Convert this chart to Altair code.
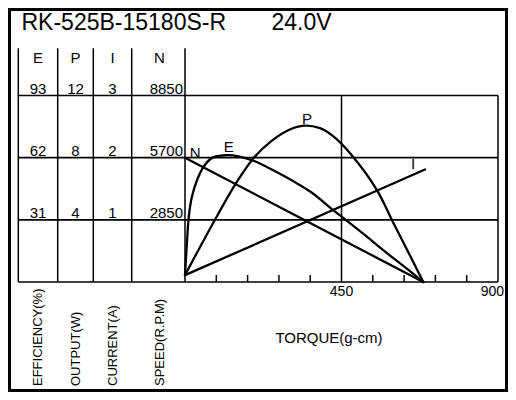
import altair as alt
import pandas as pd

# ---------------- data ----------------
title_model = "RK-525B-15180S-R"
title_volt = "24.0V"

col_names = ["E", "P", "I", "N"]
E_levels = [93, 62, 31]
P_levels = [12, 8, 4]
I_levels = [3, 2, 1]
N_levels = ["8850", "5700", "2850"]
row_index = [3, 2, 1]
grid_rows = [0, 1, 2, 3]

axis_titles = ["EFFICIENCY(%)", "OUTPUT(W)", "CURRENT(A)", "SPEED(R.P.M)"]
x_title = "TORQUE(g-cm)"
x_labels = [450, 900]
x_minor = [90, 180, 270, 360, 540, 630, 720, 810]

torque_E = [0, 6, 11, 20, 35, 54, 78, 116, 154, 201, 259, 316, 365, 425, 460, 522, 580, 637, 685]
eff_E = [3.5, 21, 32.7, 42.6, 51, 57.6, 61.9, 63.2, 62.7, 60.2, 55.2, 49.8, 44.5, 36, 31.3, 22.8, 14.5, 6.8, 0]

torque_P = [0, 91, 145, 198, 250, 300, 342, 388, 425, 474, 551, 598, 647, 685]
out_P = [0.45, 4.2, 6.3, 8.0, 9.1, 9.8, 10.06, 9.9, 9.4, 8.3, 5.95, 3.85, 1.7, 0]

torque_I = [0, 690]
cur_I = [0.11, 1.81]

torque_N = [0, 685]
spd_N = [5700, 0]

curve_names = ["E", "P", "I", "N"]
label_torque = [126, 351, 656, 29]
label_value = [67.4, 10.5, 1.90, 5911]

# ---------------- layout / style ----------------
FONT = "Liberation Sans"
W, H = 500, 384
X0, X1 = 177, 490          # torque 0 .. 900
YB, YT = 274, 87.5         # bottom .. top grid line
TBL_TOP = 40.3
col_lines = [10.3, 49.7, 85.3, 123.7, 177]
col_centers = [30, 67.5, 104.5, 151.5]

xs = alt.Scale(domain=[0, 900], range=[X0, X1], nice=False, zero=False)


def ys(top):
    return alt.Scale(domain=[0, top], range=[YB, YT], nice=False, zero=False)


one = pd.DataFrame({"a": [0]})
layers = []

# outer frame
layers.append(alt.Chart(one).mark_rect(filled=False, stroke="black", strokeWidth=3).encode(
    x=alt.value(1.5), x2=alt.value(W - 1.5), y=alt.value(1.5), y2=alt.value(H - 1.5)))

# horizontal grid / table lines
layers.append(alt.Chart(pd.DataFrame({"row": grid_rows})).mark_rule(
    color="black", strokeWidth=1.7).encode(
    x=alt.value(col_lines[0]), x2=alt.value(X1),
    y=alt.Y("row:Q", scale=ys(3), axis=None)))

# table vertical lines
for v in col_lines:
    layers.append(alt.Chart(one).mark_rule(color="black", strokeWidth=1.5).encode(
        x=alt.value(v), y=alt.value(TBL_TOP), y2=alt.value(YB)))

# vertical grid lines at labelled torques
layers.append(alt.Chart(pd.DataFrame({"t": x_labels})).mark_rule(
    color="black", strokeWidth=1.5).encode(
    x=alt.X("t:Q", scale=xs, axis=None), y=alt.value(YT), y2=alt.value(YB)))

# minor ticks
layers.append(alt.Chart(pd.DataFrame({"t": x_minor})).mark_rule(
    color="black", strokeWidth=1.5).encode(
    x=alt.X("t:Q", scale=xs, axis=None), y=alt.value(YB), y2=alt.value(YB - 7)))

# tick labels
layers.append(alt.Chart(pd.DataFrame({"t": [x_labels[0]]})).mark_text(
    font=FONT, fontSize=14, align="center", baseline="middle", color="black").encode(
    x=alt.X("t:Q", scale=xs, axis=None), y=alt.value(284), text=alt.Text("t:Q")))
layers.append(alt.Chart(pd.DataFrame({"t": [x_labels[1]]})).mark_text(
    font=FONT, fontSize=14, align="right", baseline="middle", color="black", dx=6).encode(
    x=alt.X("t:Q", scale=xs, axis=None), y=alt.value(284), text=alt.Text("t:Q")))

# curves
curve_specs = [
    ("E", torque_E, eff_E, 93, "catmull-rom"),
    ("P", torque_P, out_P, 12, "catmull-rom"),
    ("I", torque_I, cur_I, 3, "linear"),
    ("N", torque_N, spd_N, 8550, "linear"),
]
for name, tq, vals, top, interp in curve_specs:
    df = pd.DataFrame({"torque": tq, name: vals})
    layers.append(alt.Chart(df).mark_line(
        color="black", strokeWidth=2.3, interpolate=interp, strokeCap="round").encode(
        x=alt.X("torque:Q", scale=xs, axis=None),
        y=alt.Y(f"{name}:Q", scale=ys(top), axis=None)))
    i = curve_names.index(name)
    ldf = pd.DataFrame({"torque": [label_torque[i]], name: [label_value[i]], "lab": [name]})
    layers.append(alt.Chart(ldf).mark_text(
        font=FONT, fontSize=15, align="center", baseline="middle", color="black").encode(
        x=alt.X("torque:Q", scale=xs, axis=None),
        y=alt.Y(f"{name}:Q", scale=ys(top), axis=None),
        text="lab:N"))

# table headers
for name, cx in zip(col_names, col_centers):
    layers.append(alt.Chart(pd.DataFrame({"lab": [name]})).mark_text(
        font=FONT, fontSize=15, align="center", baseline="middle", color="black").encode(
        x=alt.value(cx), y=alt.value(50), text="lab:N"))

# table values
level_lists = [E_levels, P_levels, I_levels, N_levels]
for k, (levels, cx) in enumerate(zip(level_lists, col_centers)):
    df = pd.DataFrame({"row": row_index, "lab": [str(v) for v in levels]})
    if k < 3:
        mk = alt.Chart(df).mark_text(font=FONT, fontSize=15, align="center",
                                     baseline="alphabetic", dy=-2, color="black")
        xv = alt.value(cx)
    else:
        mk = alt.Chart(df).mark_text(font=FONT, fontSize=15, align="right",
                                     baseline="alphabetic", dy=-2, color="black")
        xv = alt.value(col_lines[-1] - 2)
    layers.append(mk.encode(x=xv, y=alt.Y("row:Q", scale=ys(3), axis=None), text="lab:N"))

# rotated axis titles
for name, cx in zip(axis_titles, col_centers):
    layers.append(alt.Chart(pd.DataFrame({"lab": [name]})).mark_text(
        font=FONT, fontSize=13, angle=270, align="left", baseline="middle",
        color="black").encode(x=alt.value(cx), y=alt.value(378), text="lab:N"))

# torque title
layers.append(alt.Chart(pd.DataFrame({"lab": [x_title]})).mark_text(
    font=FONT, fontSize=15, align="center", baseline="middle", color="black").encode(
    x=alt.value(321), y=alt.value(330), text="lab:N"))

# chart title
layers.append(alt.Chart(pd.DataFrame({"lab": [title_model]})).mark_text(
    font=FONT, fontSize=23, align="left", baseline="alphabetic", color="black").encode(
    x=alt.value(13.5), y=alt.value(21.5), text="lab:N"))
layers.append(alt.Chart(pd.DataFrame({"lab": [title_volt]})).mark_text(
    font=FONT, fontSize=23, align="left", baseline="alphabetic", color="black").encode(
    x=alt.value(263.5), y=alt.value(21.5), text="lab:N"))

chart = alt.layer(*layers).resolve_scale(y="independent").properties(
    width=W, height=H, padding=0,
    autosize=alt.AutoSizeParams(type="none"),
    background="white",
).configure_view(strokeWidth=0)

chart.save("out.html", embed_options={"renderer": "svg", "actions": False})
